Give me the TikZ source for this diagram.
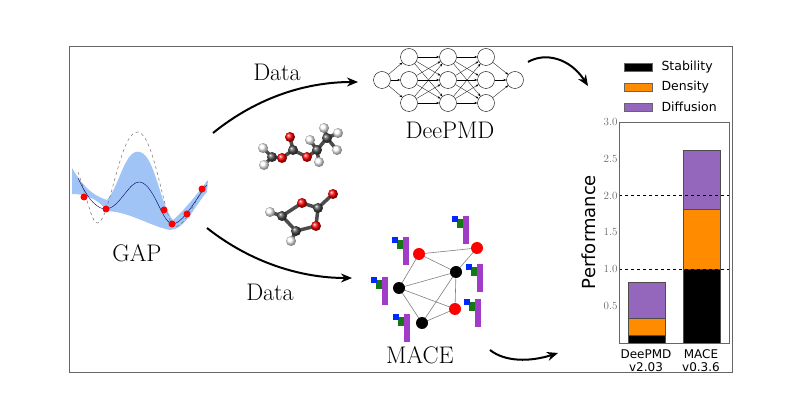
\documentclass[tikz,border=0pt]{standalone}
\usepackage{fontspec}
\newfontfamily\sansf{DejaVu Sans}
\usetikzlibrary{arrows.meta, positioning}

\definecolor{bandblue}{RGB}{160,196,245}
\definecolor{diffpurple}{RGB}{148,103,189}
\definecolor{densorange}{RGB}{255,140,0}
\definecolor{featblue}{RGB}{0,40,255}
\definecolor{featgreen}{RGB}{20,120,20}
\definecolor{featpurple}{RGB}{160,60,200}

% small feature icon beside each MACE node
\newcommand{\featicon}[2]{%
  \fill[featpurple] (#1+11,#2) rectangle (#1+17,#2+28);
  \fill[featgreen] (#1+5,#2+3) rectangle (#1+11,#2+12);
  \fill[featblue] (#1,#2) rectangle (#1+6,#2+6);
}

\begin{document}
\begin{tikzpicture}[x=1pt, y=-1pt,
    bigtext/.style={font=\fontsize{24}{28}\selectfont},
    flow/.style={-{Stealth[length=11pt,width=9pt]}, line width=2pt, black},
    neuron/.style={circle, draw, fill=white, minimum size=17pt, inner sep=0pt},
    site/.style={circle, inner sep=0pt, minimum size=12pt},
    bond/.style={line width=3.5pt, gray!60!black},
    atom/.style={circle, inner sep=0pt, minimum size=10pt, ball color=#1},
    bar/.style={draw=black!70, line width=0.4pt},
    tick/.style={font=\fontsize{11}{12}\selectfont, text=black!60, anchor=east},
    legend/.style={font=\sansf\fontsize{12.5}{13}\selectfont, anchor=west}
]
\useasboundingbox (0,0) rectangle (800,419);
\draw[black!60, line width=0.8pt] (69,46) rectangle (732,372);

% GAP
\fill[bandblue] (72,168) .. controls (85,190) and (95,196) .. (107,200)
  .. controls (120,185) and (125,148) .. (140,152)
  .. controls (155,156) and (160,205) .. (173,220)
  .. controls (185,210) and (200,190) .. (208,180) -- (207,192)
  .. controls (195,205) and (185,230) .. (170,230)
  .. controls (150,226) and (130,212) .. (107,211)
  .. controls (100,202) and (90,194) .. (72,194) -- cycle;
\draw[black!55, dashed, line width=0.5pt] (78,172) .. controls (88,200) and (92,225) .. (98,223)
  .. controls (110,220) and (120,130) .. (138,132)
  .. controls (155,134) and (165,227) .. (175,227)
  .. controls (185,227) and (198,195) .. (207,182);
\draw[blue!40!black, line width=0.4pt] (78,178) .. controls (88,200) and (98,210) .. (107,209)
  .. controls (120,207) and (130,180) .. (140,182)
  .. controls (155,185) and (162,224) .. (173,224)
  .. controls (185,222) and (198,195) .. (207,185);
\foreach \px/\py in {84/197, 106/209, 164/210, 172/224, 187/214, 202/189}
  \fill[red] (\px,\py) circle (3.5pt);
\node[bigtext] (gap) at (137,253) {GAP};

% DeePMD network
\foreach \r/\ry in {1/57, 2/80, 3/103} {
  \node[neuron] (a\r) at (409,\ry) {};
  \node[neuron] (b\r) at (448,\ry) {};
  \node[neuron] (c\r) at (486,\ry) {};
}
\node[neuron] (in) at (382,80) {};
\node[neuron] (out) at (515,80) {};
\foreach \i in {1,2,3} {
  \draw[-{Stealth[length=3pt]}, line width=0.3pt] (in) -- (a\i);
  \draw[-{Stealth[length=3pt]}, line width=0.3pt] (c\i) -- (out);
  \foreach \j in {1,2,3} {
    \draw[-{Stealth[length=3pt]}, line width=0.3pt] (a\i) -- (b\j);
    \draw[-{Stealth[length=3pt]}, line width=0.3pt] (b\i) -- (c\j);
  }
}
\node[bigtext] (deepmd) at (450,130) {DeePMD};

% molecules
\draw[bond] (263,148) -- (272,157) -- (282,158) -- (293,150) -- (290,137);
\draw[bond] (272,157) -- (264,165);
\draw[bond] (293,150) -- (307,157) -- (317,150) -- (327,138);
\draw[bond] (317,150) -- (319,162); \draw[bond] (317,150) -- (310,140);
\draw[bond] (327,138) -- (324,128); \draw[bond] (327,138) -- (338,133); \draw[bond] (327,138) -- (337,150);
\foreach \px/\py in {263/148, 264/165, 319/162, 310/140, 324/128, 338/133, 337/150}
  \node[atom=white] (h\px\py) at (\px,\py) {};
\foreach \px/\py in {272/157, 293/150, 317/150, 327/138}
  \node[atom=black!70] (c\px\py) at (\px,\py) {};
\foreach \px/\py in {282/158, 290/137, 307/157}
  \node[atom=red] (o\px\py) at (\px,\py) {};
\draw[bond] (270,212) -- (282,216) -- (302,203) -- (318,208) -- (333,194);
\draw[bond] (318,208) -- (316,226) -- (296,231) -- (282,216);
\draw[bond] (296,231) -- (291,241);
\foreach \px/\py in {270/212, 291/241}
  \node[atom=white] (hr\px) at (\px,\py) {};
\foreach \px/\py in {282/216, 318/208, 296/231}
  \node[atom=black!70] (cr\px) at (\px,\py) {};
\foreach \px/\py in {302/203, 333/194, 316/226}
  \node[atom=red] (or\px) at (\px,\py) {};

% MACE graph
\coordinate (r1) at (419,254);
\coordinate (r2) at (477,248);
\coordinate (r3) at (455,309);
\coordinate (k1) at (456,272);
\coordinate (k2) at (399,288);
\coordinate (k3) at (422,323);
\foreach \u/\v in {r1/r2, r1/k1, r1/k2, k1/r2, k1/k2, k1/k3, k1/r3, k2/r3, k2/k3, k3/r3}
  \draw[black!50, line width=0.6pt] (\u) -- (\v);
\foreach \u in {r1,r2,r3} \node[site, fill=red] (n\u) at (\u) {};
\foreach \u in {k1,k2,k3} \node[site, fill=black] (n\u) at (\u) {};
\featicon{452}{216} \featicon{392}{237} \featicon{371}{277}
\featicon{466}{264} \featicon{464}{299} \featicon{393}{314}
\node[bigtext] (mace) at (420,355) {MACE};

% flows
\node[bigtext] (data1) at (277,72) {Data};
\node[bigtext] (data2) at (270,292) {Data};
\coordinate (nnin) at (358,82);
\coordinate (macein) at (352,278);
\coordinate (gapt) at (213,133);
\coordinate (gapb) at (207,228);
\draw[flow] (gapt) .. controls (260,95) and (310,82) .. (nnin);
\draw[flow] (gapb) .. controls (250,262) and (300,278) .. (macein);
\coordinate (nnout) at (528,62);
\coordinate (chtop) at (588,86);
\draw[flow] (nnout) .. controls (545,52) and (570,58) .. (chtop);
\coordinate (maceout) at (490,350);
\coordinate (chbot) at (558,353);
\draw[flow] (maceout) .. controls (505,362) and (530,362) .. (chbot);

% bar chart
\def\yscl{73.7}
\def\ybase{343}
\fill[black] (628,\ybase) rectangle (665,\ybase-0.1*\yscl);
\fill[densorange] (628,\ybase-0.1*\yscl) rectangle (665,\ybase-0.33*\yscl);
\fill[diffpurple] (628,\ybase-0.33*\yscl) rectangle (665,\ybase-0.82*\yscl);
\draw[bar] (628,\ybase) rectangle (665,\ybase-0.1*\yscl) rectangle (628,\ybase-0.33*\yscl) rectangle (665,\ybase-0.82*\yscl);
\fill[black] (683,\ybase) rectangle (720,\ybase-1.0*\yscl);
\fill[densorange] (683,\ybase-1.0*\yscl) rectangle (720,\ybase-1.82*\yscl);
\fill[diffpurple] (683,\ybase-1.82*\yscl) rectangle (720,\ybase-2.62*\yscl);
\draw[bar] (683,\ybase) rectangle (720,\ybase-1.0*\yscl) rectangle (683,\ybase-1.82*\yscl) rectangle (720,\ybase-2.62*\yscl);
\foreach \v in {1.0,2.0}
  \draw[dashed, line width=0.7pt] (619,\ybase-\v*\yscl) -- (729,\ybase-\v*\yscl);
\draw[black!60, line width=0.5pt] (619,122) rectangle (729,343);
\foreach \v in {0.5,1.0,1.5,2.0,2.5,3.0}
  \node[tick] (t\v) at (621,\ybase-\v*\yscl) {\v};
\node[font=\sansf\fontsize{18}{20}\selectfont, rotate=90] (perf) at (589,232) {Performance};
\node[font=\sansf\fontsize{12}{13}\selectfont, align=center] (xl1) at (646,361) {DeePMD\\v2.03};
\node[font=\sansf\fontsize{12}{13}\selectfont, align=center] (xl2) at (701,361) {MACE\\v0.3.6};
\foreach \c/\t/\ly in {black/Stability/67, densorange/Density/87, diffpurple/Diffusion/107} {
  \draw[fill=\c, draw=black!60] (624,\ly-4) rectangle (652,\ly+4);
  \node[legend] (l\t) at (658,\ly) {\t};
}
\end{tikzpicture}
\end{document}
